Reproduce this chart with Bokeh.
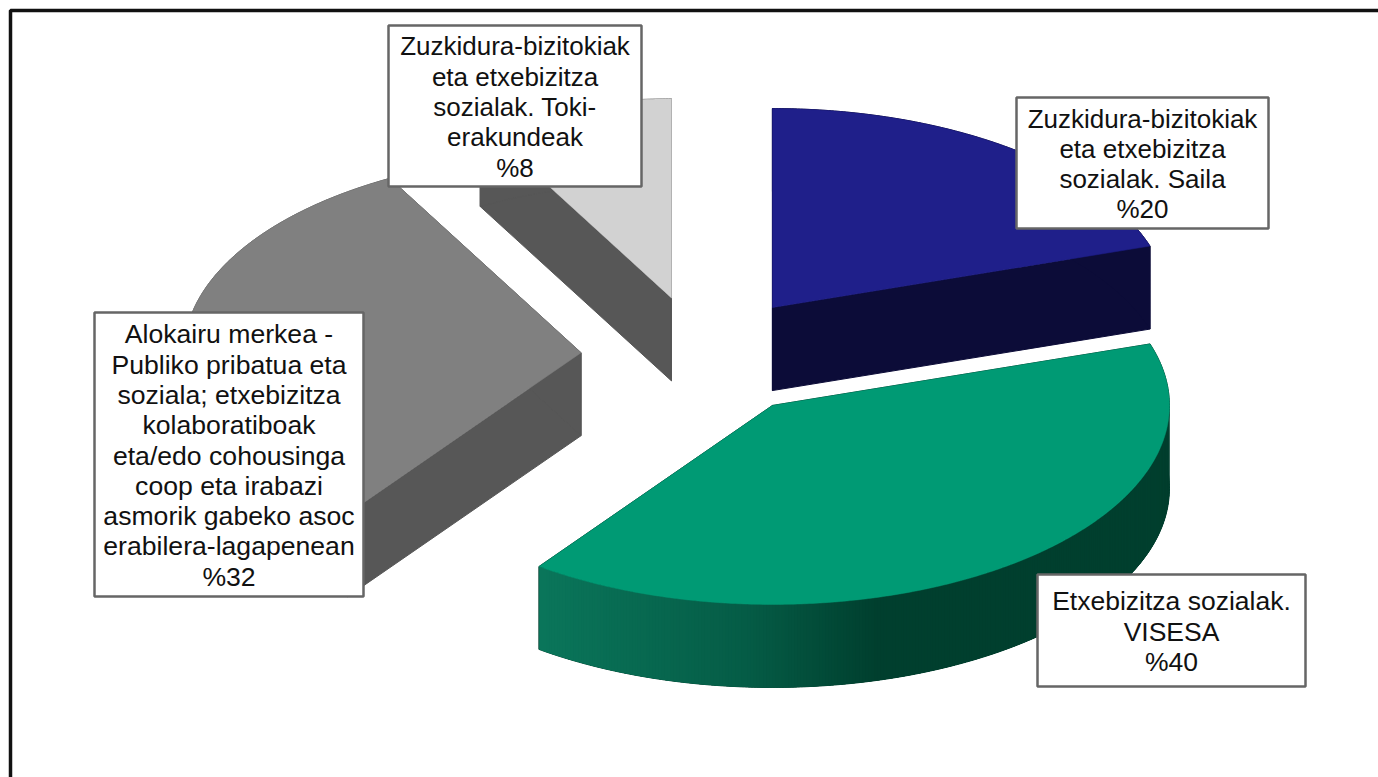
import numpy as np
from bokeh.plotting import figure
from bokeh.models import Range1d, ColumnDataSource
from bokeh.core.properties import value
from bokeh.embed import file_html
from bokeh.resources import INLINE

# ---- chart values ----
shares = [20, 40, 32, 8]
labels = [
    ["Zuzkidura-bizitokiak", "eta etxebizitza", "sozialak. Saila", "%20"],
    ["Etxebizitza sozialak.", "VISESA", "%40"],
    ["Alokairu merkea -", "Publiko pribatua eta", "soziala; etxebizitza", "kolaboratiboak",
     "eta/edo cohousinga", "coop eta irabazi", "asmorik gabeko asoc",
     "erabilera-lagapenean", "%32"],
    ["Zuzkidura-bizitokiak", "eta etxebizitza", "sozialak. Toki-", "erakundeak", "%8"],
]
top_colors = ["#1f1f8a", "#009a74", "#808080", "#d2d2d2"]
side_colors = ["#0c0c38", None, "#575757", "#575757"]
# label boxes: left, right, top, bottom (pixels)
boxes = [(1016, 1268, 97, 228), (1037, 1305, 574, 686), (94, 363, 312, 596), (388, 641, 25, 186)]
font_sizes = ["26px", "26.5px", "26.6px", "26px"]

# ---- pie geometry (pixels) ----
CX, CY = 701, 356
RX, RY = 397, 199
DEPTH = 83
EXPLODE = 0.304
LINE_H = 30.3
green_x = [538, 740, 870, 1170]
green_rgb = [(10, 117, 90), (5, 92, 70), (0, 63, 46), (0, 63, 46)]


def pt(a, c):
    return c[0] + RX * np.sin(a), c[1] - RY * np.cos(a)


def hexcol(x):
    return "#%02x%02x%02x" % tuple(
        int(round(np.interp(x, green_x, [s[i] for s in green_rgb]))) for i in range(3))


p = figure(width=1378, height=777, x_range=Range1d(0, 1378), y_range=Range1d(777, 0),
           output_backend="svg", toolbar_location=None, min_border=0,
           background_fill_color="white", border_fill_color="white")
p.axis.visible = False
p.grid.visible = False
p.outline_line_color = None

total = sum(shares)
start = 0.0
for share, top_c, side_c in zip(shares, top_colors, side_colors):
    sweep = 2 * np.pi * share / total
    mid = start + sweep / 2
    c = (CX + EXPLODE * RX * np.sin(mid), CY - EXPLODE * RY * np.cos(mid))
    angles = np.linspace(start, start + sweep, max(int(share * 8), 24) + 1)
    ax, ay = pt(angles, c)

    base = hexcol(green_x[-1]) if side_c is None else side_c
    # cut faces
    for a in (start, start + sweep):
        ex, ey = pt(a, c)
        p.patch([c[0], ex, ex, c[0]], [c[1], ey, ey + DEPTH, c[1] + DEPTH],
                fill_color=base, line_color=base, line_width=1)
    # rim in one flat colour
    p.patch(list(ax) + list(ax[::-1]), list(ay) + list((ay + DEPTH)[::-1]),
            fill_color=base, line_color=base, line_width=1)
    # shaded rim: only where the rim faces the viewer, painted right to left
    if side_c is None:
        front = angles >= np.pi / 2
        sx, sy = ax[front], ay[front]
        xs, ys, cols = [], [], []
        for i in range(len(sx) - 1):
            j = max(i - 2, 0)
            xs.append([sx[j], sx[i + 1], sx[i + 1], sx[j]])
            ys.append([sy[j], sy[i + 1], sy[i + 1] + DEPTH, sy[j] + DEPTH])
            cols.append(hexcol((sx[i] + sx[i + 1]) / 2))
        p.patches(xs, ys, fill_color=cols, line_color=None)
    # top
    p.patch([c[0]] + list(ax), [c[1]] + list(ay), fill_color=top_c, line_color=top_c, line_width=0.5)
    start += sweep

# frame (its right and bottom sides fall outside the picture)
p.line([10, 10, 1378], [777, 10, 10], line_color="#111111", line_width=3.5)

# labels
for box, lines, size in zip(boxes, labels, font_sizes):
    l, r, t, b = box
    p.quad(left=[l], right=[r], top=[t], bottom=[b], fill_color="white",
           line_color="#666666", line_width=2.5)
    cy = (t + b) / 2 + 1
    n = len(lines)
    src = ColumnDataSource(dict(
        x=[(l + r) / 2] * n,
        y=[cy + (i - (n - 1) / 2) * LINE_H for i in range(n)],
        t=lines))
    p.text(x="x", y="y", text="t", source=src, text_align="center", text_baseline="middle",
           text_font=value("Liberation Sans"), text_font_size=size, text_color="#111111")

open("out.html", "w").write(file_html(p, INLINE))
